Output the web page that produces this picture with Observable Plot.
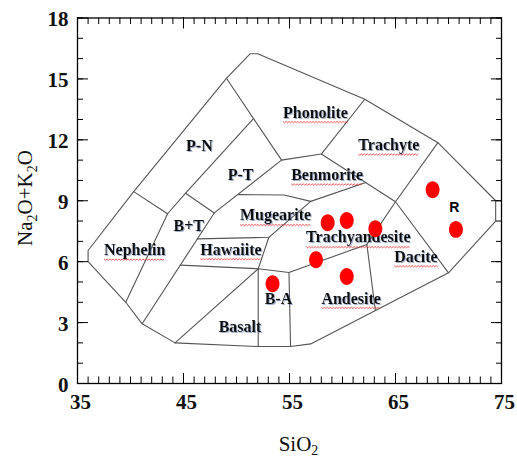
<!DOCTYPE html>
<html><head><meta charset="utf-8">
<script src="https://cdn.jsdelivr.net/npm/d3@7"></script>
<script src="https://cdn.jsdelivr.net/npm/@observablehq/plot@0.6"></script>
<style>
body{margin:0;background:#fff}
</style>
</head><body><div id="chart"></div>
<script>
// Samples (SiO2 wt%, Na2O+K2O wt%)
const sampleSiO2 = [58.6, 60.4, 63.1, 68.5, 70.7, 57.5, 60.4, 53.4];
const sampleAlk  = [7.92, 8.03, 7.62, 9.54, 7.59, 6.09, 5.27, 4.91];

// Field labels
const fieldNames = ["Phonolite","Trachyte","Benmorite","P-N","P-T","B+T","Nephelin","Hawaiite","Mugearite","Trachyandesite","Dacite","Andesite","B-A","Basalt"];
const fieldX     = [57.45, 64.37, 58.55, 46.5, 50.38, 45.5, 40.4, 49.48, 53.68, 61.5, 66.93, 60.82, 53.96, 50.33];
const fieldY     = [13.32, 11.77, 10.25, 11.72, 10.25, 7.74, 6.6, 6.57, 8.3, 7.21, 6.22, 4.17, 4.17, 2.77];
const wavyNames  = ["Phonolite","Trachyte","Benmorite","Nephelin","Hawaiite","Mugearite","Trachyandesite","Dacite","Andesite"];
const extraLabel = ["R"];
const extraX = [70.55];
const extraY = [8.68];

// Field boundaries (polylines of [SiO2, Na2O+K2O])
const outerBoundary = [[36,6],[36,6.55],[40.3,9.45],[49.05,15.03],[51.3,16.24],[52,16.24],[62.1,14],[69,11.86],[74.45,9],[74.45,8],[70,5.45],[57,1.95],[55.1,1.82],[52.05,1.82],[44.2,2],[41.1,2.94],[39.55,4],[36,6]];
const innerBoundaries = [
  [[40.3,9.45],[43.5,8.36]],
  [[39.55,4],[43.5,8.36],[45.2,9.37],[51.6,13.05]],
  [[49.05,15.03],[54.25,11]],
  [[45.2,9.37],[47.9,8.4]],
  [[41.1,2.94],[47.9,8.4],[54.25,11],[58,11.3],[62.1,14]],
  [[58,11.3],[65,8.95],[70,5.45]],
  [[69,11.86],[65,8.95],[62.3,6.85],[63.1,3.6]],
  [[50.2,9.3],[54.5,9.28],[57,8.97],[62.2,9.9]],
  [[46.3,7.12],[53.05,7.2],[57,8.97]],
  [[53.05,7.2],[52.05,5.65]],
  [[44.7,5.83],[52.05,5.65],[54.95,5.47],[62.3,6.85]],
  [[44.2,2],[52.05,5.65]],
  [[52.05,5.65],[52.05,1.82]],
  [[54.95,5.47],[55.1,1.82]]
];

// Axis ticks
const xMajor = [35,45,55,65,75];
const yMajor = [0,3,6,9,12,15,18];
const xMinor = d3.range(35,76,1);
const yMinor = d3.range(0,19,1);

const samples = sampleSiO2.map((x,i)=>({x, y: sampleAlk[i]}));
const fields = fieldNames.map((name,i)=>({name, x: fieldX[i], y: fieldY[i]}));
const extras = extraLabel.map((name,i)=>({name, x: extraX[i], y: extraY[i]}));
const lines = [outerBoundary, ...innerBoundaries].flatMap((pts,id)=>pts.map(([x,y])=>({x,y,id})));

const W = 517, H = 460, mL = 77, mR = 16, mT = 17.5, mB = 77;
const iW = W - mL - mR, iH = H - mT - mB;
const serif = "'Liberation Serif','Times New Roman',serif";

const ellipse = {draw(ctx, size){
  const r = Math.sqrt(size/Math.PI), rx = r*0.87, ry = r*1.06, k = 0.5523;
  ctx.moveTo(rx,0);
  ctx.bezierCurveTo(rx, ry*k, rx*k, ry, 0, ry);
  ctx.bezierCurveTo(-rx*k, ry, -rx, ry*k, -rx, 0);
  ctx.bezierCurveTo(-rx, -ry*k, -rx*k, -ry, 0, -ry);
  ctx.bezierCurveTo(rx*k, -ry, rx, -ry*k, rx, 0);
  ctx.closePath();
}};

const chart = Plot.plot({
  width: W, height: H,
  marginLeft: mL, marginRight: mR, marginTop: mT, marginBottom: mB,
  x: {domain: [35,75], axis: null},
  y: {domain: [0,18], axis: null},
  style: {background: "#fff"},
  marks: [
    Plot.line(lines, {x:"x", y:"y", z:"id", stroke:"#555", strokeWidth:1.1}),
    // bottom ticks
    Plot.ruleX(xMinor, {x:d=>d, insetTop: iH-6.5, stroke:"#000"}),
    Plot.ruleX(xMajor, {x:d=>d, insetTop: iH-10, stroke:"#000"}),
    // top ticks
    Plot.ruleX(xMinor, {x:d=>d, insetBottom: iH-6.5, stroke:"#000"}),
    Plot.ruleX(xMajor, {x:d=>d, insetBottom: iH-11, stroke:"#000"}),
    // left ticks
    Plot.ruleY(yMinor, {y:d=>d, insetRight: iW-6, stroke:"#000"}),
    Plot.ruleY(yMajor, {y:d=>d, insetRight: iW-11, stroke:"#000"}),
    // right ticks
    Plot.ruleY(yMinor, {y:d=>d, insetLeft: iW-5, stroke:"#000"}),
    Plot.ruleY(yMajor, {y:d=>d, insetLeft: iW-10, stroke:"#000"}),
    Plot.frame({stroke:"#000", strokeWidth:1.3}),
    Plot.text(xMajor, {x:d=>d, text:d=>String(d), frameAnchor:"bottom", dy:25, dx:3, fontSize:21, fontWeight:"bold", fontFamily:serif, fill:"#111"}),
    Plot.text(yMajor, {y:d=>d, text:d=>String(d), frameAnchor:"left", textAnchor:"end", dx:-9, dy:1.5, fontSize:21, fontWeight:"bold", fontFamily:serif, fill:"#111"}),
    Plot.text(fields, {x:"x", y:"y", text:"name", fontSize:16, fontWeight:"bold", fontFamily:serif, fill:"#111"}),
    Plot.text(extras, {x:"x", y:"y", text:"name", fontSize:14, fontWeight:"bold", fontFamily:"'Liberation Sans',Arial,sans-serif", fill:"#000"}),
    Plot.dot(samples, {x:"x", y:"y", r:8, symbol: ellipse, fill:"#ff0000", stroke:"none"})
  ]
});

document.getElementById("chart").appendChild(chart);
const svg = d3.select(chart);

// soft shadow on field labels (as in the reference)
const defs = svg.append("defs");
defs.append("filter").attr("id","lblshadow").attr("x","-10%").attr("y","-30%").attr("width","130%").attr("height","160%")
  .append("feDropShadow").attr("dx",1).attr("dy",1).attr("stdDeviation",0.6)
  .attr("flood-color","#5a6f9e").attr("flood-opacity",0.55);

const fieldTexts = svg.selectAll("text").filter(function(){ return fieldNames.includes(this.textContent); });
fieldTexts.attr("filter","url(#lblshadow)");

// red wavy spell-check underlines under some labels (drawn in each label's own frame)
fieldTexts.filter(function(){ return wavyNames.includes(this.textContent); }).each(function(){
  const b = this.getBBox();
  const y0 = b.y + b.height + 0.3;
  let d = `M${b.x},${y0}`;
  let up = true;
  for (let x = b.x + 1.5; x <= b.x + b.width + 0.01; x += 1.5) { d += `L${x},${up ? y0 + 1.3 : y0}`; up = !up; }
  const p = d3.select(this.parentNode).append("path").attr("d", d).attr("fill","none")
    .attr("stroke","#e53030").attr("stroke-width",0.8);
  const tr = this.getAttribute("transform");
  if (tr) p.attr("transform", tr);
  const tx = this.getAttribute("x"), ty = this.getAttribute("y");
  if (!tr && (tx || ty)) p.attr("transform", `translate(${tx||0},${ty||0})`);
});

// axis titles with subscripts
const xt = svg.append("text").attr("x", 298.5).attr("y", 451).attr("text-anchor","middle")
  .attr("font-family", serif).attr("font-size", 21).attr("fill","#111");
xt.append("tspan").text("SiO");
xt.append("tspan").attr("dy", 4).attr("font-size", 14).text("2");

const yt = svg.append("text").attr("transform","translate(32,198) rotate(-90)").attr("text-anchor","middle")
  .attr("font-family", serif).attr("font-size", 21).attr("fill","#111");
yt.append("tspan").text("Na");
yt.append("tspan").attr("dy", 5).attr("font-size", 14).text("2");
yt.append("tspan").attr("dy", -5).text("O+K");
yt.append("tspan").attr("dy", 5).attr("font-size", 14).text("2");
yt.append("tspan").attr("dy", -5).text("O");
</script>
</body></html>
